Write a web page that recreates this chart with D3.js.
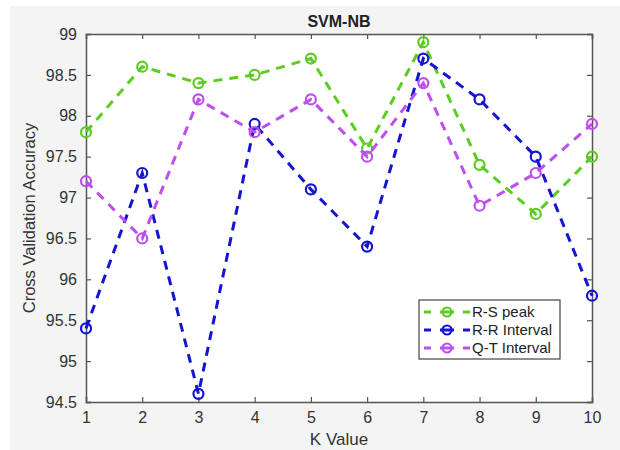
<!DOCTYPE html>
<html>
<head>
<meta charset="utf-8">
<script src="https://cdn.jsdelivr.net/npm/d3@7"></script>
<style>
    body { margin: 0; background: #ffffff; }
    svg { display: block; font-family: "Liberation Sans", Arial, sans-serif; }
</style>
</head>
<body>
<svg id="chart"></svg>
<script>
// Data
let kValues = [1, 2, 3, 4, 5, 6, 7, 8, 9, 10];
let rsPeak = [97.8, 98.6, 98.4, 98.5, 98.7, 97.6, 98.9, 97.4, 96.8, 97.5];
let rrInterval = [95.4, 97.3, 94.6, 97.9, 97.1, 96.4, 98.7, 98.2, 97.5, 95.8];
let qtInterval = [97.2, 96.5, 98.2, 97.8, 98.2, 97.5, 98.4, 96.9, 97.3, 97.9];
let yTicks = [94.5, 95, 95.5, 96, 96.5, 97, 97.5, 98, 98.5, 99];
let seriesNames = ["R-S peak", "R-R Interval", "Q-T Interval"];
let seriesColors = ["#5ccc22", "#1414d2", "#bd4ef0"];

let config = {
    'svg': {width: 620, height: 450},
    'plot': {x: 86, y: 34, width: 506, height: 368}
};

let svg = d3.select("#chart")
    .attr("width", config.svg.width)
    .attr("height", config.svg.height);

// figure background (MATLAB style grey)
svg.append("rect")
    .attr("x", 10).attr("y", 6)
    .attr("width", config.svg.width - 10).attr("height", config.svg.height - 6)
    .attr("fill", "#f4f4f4");

let plot = svg.append("g")
    .attr("transform", translate(config.plot.x, config.plot.y));

plot.append("rect")
    .attr("width", config.plot.width)
    .attr("height", config.plot.height)
    .attr("fill", "#ffffff");

// Scales
let x = d3.scaleLinear().domain([1, 10]).range([0, config.plot.width]);
let y = d3.scaleLinear().domain([94.5, 99]).range([config.plot.height, 0]);

// Axes, ticks pointing inward like matlab
let axisColor = "#555";
let bottomAxis = d3.axisBottom(x).tickValues(kValues).tickSize(-5).tickPadding(10).tickFormat(d3.format("d"));
let leftAxis = d3.axisLeft(y).tickValues(yTicks).tickSize(-5).tickPadding(9).tickFormat(d => d);
let topAxis = d3.axisTop(x).tickValues(kValues).tickSize(-5).tickFormat("");
let rightAxis = d3.axisRight(y).tickValues(yTicks).tickSize(-5).tickFormat("");

let axes = [
    plot.append("g").attr("transform", translate(0, config.plot.height)).call(bottomAxis),
    plot.append("g").call(leftAxis),
    plot.append("g").call(topAxis),
    plot.append("g").attr("transform", translate(config.plot.width, 0)).call(rightAxis)
];
axes.forEach(g => {
    g.select(".domain").attr("stroke", axisColor).attr("stroke-width", 1.5);
    g.selectAll(".tick line").attr("stroke", axisColor).attr("stroke-width", 1.2);
    g.selectAll(".tick text").attr("fill", "#333").attr("font-size", 16);
});

// Lines and markers
let allSeries = [rsPeak, rrInterval, qtInterval];
let line = d3.line()
    .x((d, i) => x(kValues[i]))
    .y(d => y(d));

allSeries.forEach((values, s) => {
    plot.append("path")
        .datum(values)
        .attr("d", line)
        .attr("fill", "none")
        .attr("stroke", seriesColors[s])
        .attr("stroke-width", 3)
        .attr("stroke-dasharray", "9,7");
    plot.selectAll(".pt" + s)
        .data(values)
        .enter()
        .append("circle")
        .attr("class", "pt" + s)
        .attr("cx", (d, i) => x(kValues[i]))
        .attr("cy", d => y(d))
        .attr("r", 5)
        .attr("fill", "none")
        .attr("stroke", seriesColors[s])
        .attr("stroke-width", 2.2);
});

// Title and labels
svg.append("text")
    .attr("x", config.plot.x + config.plot.width / 2)
    .attr("y", 27)
    .attr("text-anchor", "middle")
    .attr("font-size", 16)
    .attr("font-weight", "bold")
    .attr("fill", "#222")
    .text("SVM-NB");

svg.append("text")
    .attr("x", config.plot.x + config.plot.width / 2)
    .attr("y", 445)
    .attr("text-anchor", "middle")
    .attr("font-size", 17)
    .attr("fill", "#333")
    .text("K Value");

svg.append("text")
    .attr("transform", translate(35, config.plot.y + config.plot.height / 2) + " rotate(-90)")
    .attr("text-anchor", "middle")
    .attr("font-size", 16.5)
    .attr("fill", "#333")
    .text("Cross Validation Accuracy");

// Legend
let legend = svg.append("g").attr("transform", translate(419, 300));
legend.append("rect")
    .attr("width", 141).attr("height", 59)
    .attr("fill", "#ffffff")
    .attr("stroke", "#444").attr("stroke-width", 1.2);

seriesNames.forEach((name, s) => {
    let row = legend.append("g").attr("transform", translate(0, 12 + s * 18));
    row.append("line")
        .attr("x1", 5).attr("x2", 51).attr("y1", 0).attr("y2", 0)
        .attr("stroke", seriesColors[s]).attr("stroke-width", 2.8)
        .attr("stroke-dasharray", "7,9,14,9,7");
    row.append("circle")
        .attr("cx", 28).attr("cy", 0).attr("r", 4.5)
        .attr("fill", "none")
        .attr("stroke", seriesColors[s]).attr("stroke-width", 2.2);
    row.append("text")
        .attr("x", 53).attr("y", 5)
        .attr("font-size", 15)
        .attr("fill", "#222")
        .text(name);
});

function translate(x, y) {
    return 'translate(' + x + ',' + y + ')';
}
</script>
</body>
</html>
